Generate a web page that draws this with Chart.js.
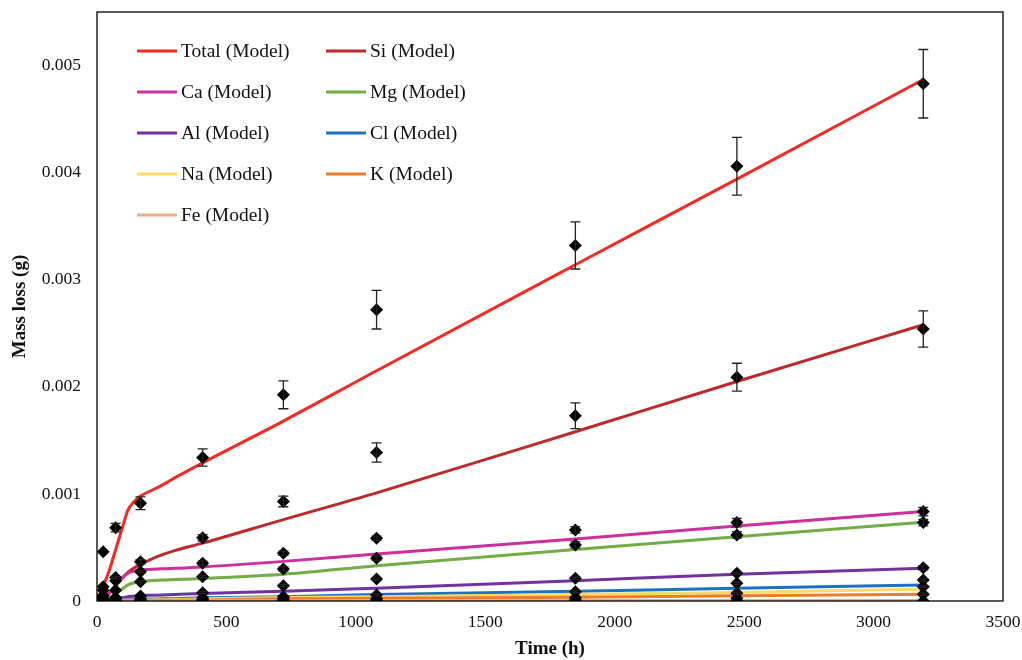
<!DOCTYPE html>
<html><head><meta charset="utf-8">
<script src="https://cdn.jsdelivr.net/npm/chart.js@4.4.0/dist/chart.umd.min.js"></script>
<style>html,body{margin:0;padding:0;background:#fff;overflow:hidden}#wrap{width:1022px;height:660px}</style>
</head><body><div id="wrap"><canvas id="c" width="1022" height="660"></canvas></div>
<script>
// ---- data ----
const TIMES = [0, 24, 72, 168, 408, 720, 1080, 1848, 2472, 3192];
const MODEL_TIMES = [0, 24, 48, 72, 96, 120, 144, 168, 200, 250, 300, 408, 720, 1080, 1848, 2472, 3192];
const X_TICKS = [0, 500, 1000, 1500, 2000, 2500, 3000, 3500];
const Y_TICKS = [0, 0.001, 0.002, 0.003, 0.004, 0.005];
const SERIES_NAMES = ['Total (Model)', 'Si (Model)', 'Ca (Model)', 'Mg (Model)', 'Al (Model)', 'Cl (Model)', 'Na (Model)', 'K (Model)', 'Fe (Model)'];
const SERIES_COLORS = ['#f52a22', '#c0292b', '#cf2f9b', '#72ad47', '#7332a0', '#1b72bf', '#fdd966', '#ec7c30', '#f5ab82'];

// model curves
const totalModel = [0, 0.00014, 0.00029, 0.00048, 0.00067, 0.00085, 0.00093, 0.00098, 0.00102, 0.00108, 0.00115, 0.00129, 0.00168, 0.00215, 0.00314, 0.00394, 0.00487];
const siModel    = [0, 0.00003, 0.00008, 0.00015, 0.00021, 0.00027, 0.00031, 0.00034, 0.00038, 0.00043, 0.00047, 0.00054, 0.00076, 0.00101, 0.00158, 0.00205, 0.00258];
const caModel    = [0, 0.00003, 0.00007, 0.00014, 0.00021, 0.00026, 0.00028, 0.00029, 0.000295, 0.0003, 0.000305, 0.000318, 0.00037, 0.00044, 0.00058, 0.0007, 0.000835];
const mgModel    = [0, 0.00001, 0.00003, 0.00007, 0.00011, 0.00015, 0.00017, 0.00018, 0.00019, 0.000195, 0.0002, 0.00021, 0.00025, 0.00033, 0.00048, 0.0006, 0.000735];
const alModel    = [0, 0.000005, 0.00001, 0.00002, 0.00003, 0.00004, 0.000045, 0.00005, 0.000053, 0.000056, 0.00006, 0.00007, 0.00009, 0.00012, 0.00019, 0.00025, 0.000305];
const clModel    = [0, 0.000002, 0.000005, 0.000008, 0.00001, 0.000012, 0.000014, 0.000016, 0.000018, 0.00002, 0.000022, 0.00003, 0.00004, 0.00006, 0.00009, 0.00012, 0.00015];
const naModel    = [0, 0.000001, 0.000003, 0.000005, 0.000006, 0.000007, 0.000008, 0.000009, 0.00001, 0.000012, 0.000014, 0.00002, 0.000033, 0.00004, 0.00006, 0.00008, 0.00011];
const kModel     = [0, 0, 0.000001, 0.000002, 0.000003, 0.000004, 0.000004, 0.000005, 0.000005, 0.000006, 0.000007, 0.00001, 0.00002, 0.000025, 0.000035, 0.00005, 0.000063];
const feModel    = [0, 0, 0, 0, 0, 0, 0, 0.000001, 0.000001, 0.000001, 0.000001, 0.000002, 0.000002, 0.000003, 0.000004, 0.000004, 0.000005];

// experimental values
const totalExp = [0, 0.00046, 0.000685, 0.000913, 0.00134, 0.001925, 0.00272, 0.00332, 0.00406, 0.00483];
const siExp    = [0, 0.000134, 0.00022, 0.000367, 0.00059, 0.00093, 0.001386, 0.00173, 0.00209, 0.00254];
const caExp    = [0, 0.0001, 0.00019, 0.000274, 0.000352, 0.000446, 0.000586, 0.000664, 0.000732, 0.000835];
const mgExp    = [0, 0.00005, 0.0001, 0.00018, 0.000227, 0.000299, 0.0004, 0.000523, 0.000617, 0.000732];
const alExp    = [0, 0.00002, 0.00003, 0.000047, 0.000078, 0.000143, 0.000206, 0.000212, 0.000259, 0.000311];
const clExp    = [0, 0.00001, 0.00002, 0.00002, 0.00003, 0.00004, 0.000056, 0.000087, 0.000165, 0.000196];
const naExp    = [0, 0, 0.00001, 0.00001, 0.00001, 0.00002, 0.00002, 0.00003, 0.000072, 0.000134];
const kExp     = [0, 0, 0, 0, 0.00001, 0.00001, 0.00001, 0.00001, 0.000025, 0.000063];
const feExp    = [0, 0, 0, 0, 0, 0, 0, 0, 0, 0];

// error bars (±)
const totalErr = [0, 0, 0.00004, 0.00006, 0.00008, 0.00013, 0.00018, 0.00022, 0.00027, 0.00032];
const siErr    = [0, 0, 0.00001, 0.00002, 0.00003, 0.00005, 0.00009, 0.00012, 0.00013, 0.00017];
const caErr    = [0, 0, 0, 0.00001, 0.00002, 0.00002, 0.00002, 0.00003, 0.00004, 0.00004];
const mgErr    = [0, 0, 0, 0.00001, 0.00001, 0.00002, 0.00002, 0.00003, 0.00003, 0.00003];
const alErr    = [0, 0, 0, 0, 0.00001, 0.00001, 0.00001, 0.00001, 0.00001, 0.00002];
const clErr    = [0, 0, 0, 0, 0, 0, 0.00001, 0.00001, 0.00001, 0.00001];
const naErr    = [0, 0, 0, 0, 0, 0, 0, 0, 0.00001, 0.00001];
const kErr     = [0, 0, 0, 0, 0, 0, 0, 0, 0, 0.00001];
const feErr    = [0, 0, 0, 0, 0, 0, 0, 0, 0, 0];

const MODELS = [totalModel, siModel, caModel, mgModel, alModel, clModel, naModel, kModel, feModel];
const EXPS = [totalExp, siExp, caExp, mgExp, alExp, clExp, naExp, kExp, feExp];
const ERRS = [totalErr, siErr, caErr, mgErr, alErr, clErr, naErr, kErr, feErr];

// ---- build datasets ----
const datasets = [];
MODELS.forEach((m, i) => {
  datasets.push({
    label: SERIES_NAMES[i],
    isModel: true,
    data: MODEL_TIMES.map((t, k) => ({x: t, y: m[k]})),
    borderColor: SERIES_COLORS[i],
    backgroundColor: SERIES_COLORS[i],
    borderWidth: 3,
    pointRadius: 0,
    cubicInterpolationMode: 'monotone',
    fill: false,
    order: 100 - i
  });
});
EXPS.forEach((e, i) => {
  datasets.push({
    label: SERIES_NAMES[i].replace('(Model)', '(Exp)'),
    isModel: false,
    errors: ERRS[i],
    data: TIMES.map((t, k) => ({x: t, y: e[k]})),
    showLine: false,
    pointStyle: 'rectRot',
    pointRadius: 6.5,
    pointBackgroundColor: '#000',
    pointBorderColor: '#000',
    pointBorderWidth: 0,
    order: 20 - i
  });
});

const SERIF = "'Liberation Serif', 'Times New Roman', serif";

const errorBarPlugin = {
  id: 'errorBars',
  afterDatasetsDraw(chart) {
    const {ctx, scales: {x, y}} = chart;
    ctx.save();
    ctx.strokeStyle = '#222';
    ctx.lineWidth = 1.3;
    chart.data.datasets.forEach(ds => {
      if (!ds.errors) return;
      ds.data.forEach((p, k) => {
        const err = ds.errors[k];
        if (!err) return;
        const px = x.getPixelForValue(p.x);
        const top = y.getPixelForValue(p.y + err);
        const bot = y.getPixelForValue(p.y - err);
        ctx.beginPath();
        ctx.moveTo(px, top); ctx.lineTo(px, bot);
        ctx.moveTo(px - 5, top); ctx.lineTo(px + 5, top);
        ctx.moveTo(px - 5, bot); ctx.lineTo(px + 5, bot);
        ctx.stroke();
      });
    });
    ctx.restore();
  }
};

const framePlugin = {
  id: 'frame',
  afterDraw(chart) {
    const {ctx, chartArea: a} = chart;
    ctx.save();
    ctx.strokeStyle = '#000';
    ctx.lineWidth = 1.3;
    ctx.strokeRect(a.left, a.top, a.right - a.left, a.bottom - a.top);
    ctx.restore();
  }
};

const legendPlugin = {
  id: 'insideLegend',
  afterDraw(chart) {
    const {ctx, chartArea: a} = chart;
    const models = chart.data.datasets.filter(d => d.isModel);
    ctx.save();
    ctx.font = "19.5px " + SERIF;
    ctx.textBaseline = 'middle';
    ctx.textAlign = 'left';
    models.forEach((d, i) => {
      const col = i % 2, row = Math.floor(i / 2);
      const lx = a.left + (col === 0 ? 40 : 229);
      const ly = a.top + 39 + row * 41;
      ctx.strokeStyle = d.borderColor;
      ctx.lineWidth = 3;
      ctx.beginPath();
      ctx.moveTo(lx, ly); ctx.lineTo(lx + 40, ly);
      ctx.stroke();
      ctx.fillStyle = '#111';
      ctx.fillText(d.label, lx + 44, ly + 1);
    });
    ctx.restore();
  }
};

new Chart(document.getElementById('c'), {
  type: 'line',
  data: {datasets},
  plugins: [errorBarPlugin, framePlugin, legendPlugin],
  options: {
    responsive: false,
    animation: false,
    layout: {padding: {top: 12, right: 19, left: 0, bottom: 0}},
    plugins: {legend: {display: false}, tooltip: {enabled: false}},
    scales: {
      x: {
        type: 'linear', min: 0, max: 3500,
        afterFit(s) { s.height = 59; s.paddingLeft = 0; s.paddingRight = 0; },
        afterBuildTicks(s) { s.ticks = X_TICKS.map(v => ({value: v})); },
        grid: {display: false, drawTicks: false},
        border: {display: false},
        ticks: {padding: 11, color: '#111', font: {family: SERIF, size: 17.5},
                callback: v => String(v)},
        title: {display: true, text: 'Time (h)', color: '#111',
                font: {family: SERIF, size: 19, weight: 'bold'}, padding: {top: 0, bottom: 0}}
      },
      y: {
        type: 'linear', min: 0, max: 0.0055,
        afterFit(s) { s.width = 97; s.paddingTop = 0; s.paddingBottom = 0; },
        afterBuildTicks(s) { s.ticks = Y_TICKS.map(v => ({value: v})); },
        grid: {display: false, drawTicks: false},
        border: {display: false},
        ticks: {padding: 16, color: '#111', font: {family: SERIF, size: 17.5},
                callback: v => v === 0 ? '0' : v.toFixed(3)},
        title: {display: true, text: 'Mass loss (g)', color: '#111',
                font: {family: SERIF, size: 19, weight: 'bold'}, padding: {top: 8.5, bottom: 0}}
      }
    }
  }
});
</script></body></html>
